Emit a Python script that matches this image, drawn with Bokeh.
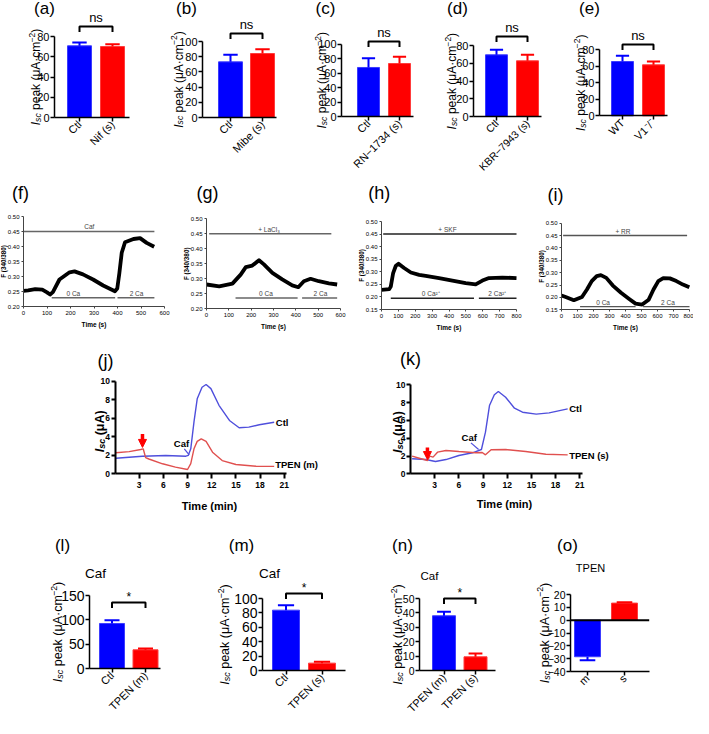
import math
from bokeh.plotting import figure
from bokeh.layouts import row, column
from bokeh.models import Label, FixedTicker, NumeralTickFormatter, Arrow, NormalHead, Range1d
from bokeh.embed import file_html
from bokeh.resources import INLINE

FONT = "Liberation Sans"
BLUE, BLUE_EDGE = "#0000ff", "#3c3cff"
RED, RED_EDGE = "#ff0000", "#ff3c3c"
TRACE_BLUE = "#4f4fdc"
TRACE_RED = "#e0504f"

# ---------------- data: bar panels ----------------
a_cats = ["Ctl", "Nif (s)"]
a_mean = [70.8, 70.1]
a_err = [3.2, 2.3]
b_cats = ["Ctl", "Mibe (s)"]
b_mean = [73.2, 84.2]
b_err = [9.3, 5.7]
c_cats = ["Ctl", "RN\u22121734 (s)"]
c_mean = [67.8, 73.3]
c_err = [12.9, 9.3]
d_cats = ["Ctl", "KBR\u22127943 (s)"]
d_mean = [69.8, 63.0]
d_err = [5.6, 6.8]
e_cats = ["WT", "V1\u207b/\u207b"]
e_mean = [65.8, 61.8]
e_err = [6.9, 4.0]
l_cats = ["Ctl", "TPEN (m)"]
l_mean = [92.5, 38.4]
l_err = [6.5, 2.6]
m_cats = ["Ctl", "TPEN (s)"]
m_mean = [83.8, 10.2]
m_err = [6.9, 1.8]
n_cats = ["TPEN (m)", "TPEN (s)"]
n_mean = [38.0, 9.5]
n_err = [2.8, 2.3]
o_cats = ["m", "s"]
o_mean = [-28.5, 13.3]
o_err = [2.7, 0.6]

ticks_0_80 = [0, 20, 40, 60, 80]
ticks_0_100 = [0, 20, 40, 60, 80, 100]
ticks_0_150 = [0, 50, 100, 150]
ticks_0_50 = [0, 10, 20, 30, 40, 50]
ticks_m40_20 = [-40, -30, -20, -10, 0, 10, 20]

# ---------------- data: Fura-2 traces (f-i) ----------------
f_t = [0, 20, 50, 80, 100, 113, 125, 153, 196, 217, 253, 296, 339, 389, 399, 408, 418, 432, 468, 496, 524, 556]
f_v = [0.252, 0.254, 0.258, 0.256, 0.247, 0.240, 0.248, 0.290, 0.314, 0.317, 0.307, 0.290, 0.270, 0.251,
       0.260, 0.312, 0.379, 0.414, 0.425, 0.428, 0.412, 0.399]
g_t = [0, 57, 116, 153, 176, 205, 235, 257, 295, 339, 384, 411, 436, 466, 503, 548, 585]
g_v = [0.281, 0.275, 0.284, 0.314, 0.339, 0.344, 0.362, 0.348, 0.320, 0.298, 0.278, 0.272, 0.292, 0.300,
       0.292, 0.285, 0.281]
h_t = [0, 46, 55, 69, 85, 101, 134, 174, 223, 262, 341, 420, 499, 558, 598, 637, 716, 800]
h_v = [0.228, 0.231, 0.241, 0.295, 0.324, 0.332, 0.315, 0.297, 0.288, 0.284, 0.275, 0.265, 0.255, 0.250,
       0.265, 0.275, 0.277, 0.275]
i_t = [0, 26, 77, 128, 159, 189, 220, 246, 280, 321, 372, 423, 463, 504, 545, 575, 605, 636, 677, 718, 759, 799]
i_v = [0.208, 0.202, 0.189, 0.202, 0.232, 0.266, 0.286, 0.290, 0.279, 0.248, 0.219, 0.194, 0.175, 0.171,
       0.191, 0.232, 0.266, 0.278, 0.277, 0.266, 0.252, 0.241]
f_xticks = [0, 100, 200, 300, 400, 500, 600]
h_xticks = [0, 100, 200, 300, 400, 500, 600, 700, 800]
f_yticks = [0.20, 0.25, 0.30, 0.35, 0.40, 0.45, 0.50]
h_yticks = [0.15, 0.20, 0.25, 0.30, 0.35, 0.40, 0.45, 0.50]

# treatments: (label, start, end, label position)
f_top = ("Caf", 0, 557, 280)
f_bottom = [("0 Ca", 120, 390, 212), ("2 Ca", 400, 557, 481)]
g_top = ("+ LaCl\u2083", 12, 559, 280)
g_bottom = [("0 Ca", 130, 408, 266), ("2 Ca", 428, 585, 510)]
h_top = ("+ SKF", 10, 800, 391)
h_bottom = [("0 Ca\u00b2\u207a", 55, 548, 292), ("2 Ca\u00b2\u207a", 577, 800, 686)]
i_top = ("+ RR", 10, 785, 384)
i_bottom = [("0 Ca", 116, 463, 260), ("2 Ca", 510, 800, 665)]
top_level = 0.45
f_bot_level, g_bot_level, h_bot_level, i_bot_level = 0.229, 0.236, 0.195, 0.163

# ---------------- data: Isc recordings (j, k) ----------------
j_t_ctl = [0.1, 3.4, 6.3, 8.8, 9.1, 9.4, 9.8, 10.2, 10.8, 11.3, 11.9, 12.9, 14.2, 15.4, 16.6, 17.9, 19.75]
j_ctl = [1.68, 1.90, 1.98, 1.90, 2.0, 2.7, 5.6, 8.1, 9.35, 9.64, 9.2, 7.4, 5.76, 4.97, 5.04, 5.3, 5.57]
j_t_tpen = [0.1, 1.76, 3.2, 3.5, 3.8, 4.2, 5.9, 7.5, 9.0, 9.4, 9.8, 10.2, 10.7, 11.3, 12.1, 13.3, 15.0, 17.5, 19.75]
j_tpen = [2.27, 2.4, 2.62, 2.7, 1.75, 1.6, 1.08, 0.72, 0.46, 1.1, 2.7, 3.5, 3.78, 3.5, 2.33, 1.43, 1.0, 0.82, 0.8]
k_t_ctl = [0.2, 1.9, 3.1, 4.4, 6.0, 7.7, 8.8, 9.3, 9.8, 10.4, 10.9, 11.8, 12.9, 13.9, 15.6, 17.2, 19.5]
k_ctl = [1.69, 1.6, 1.38, 1.6, 2.06, 2.36, 2.73, 4.68, 7.67, 8.88, 9.25, 8.6, 7.37, 6.92, 6.7, 6.85, 7.3]
k_t_tpen = [0.2, 1.1, 2.1, 2.4, 2.8, 3.35, 4.4, 6.0, 8.1, 8.9, 9.3, 10.0, 11.8, 14.3, 16.8, 19.5]
k_tpen = [1.98, 1.75, 1.49, 1.98, 1.87, 2.43, 2.62, 2.5, 2.36, 2.4, 2.13, 2.7, 2.73, 2.5, 2.2, 2.13]
isc_yticks = [0, 2, 4, 6, 8, 10]
isc_xticks = [3, 6, 9, 12, 15, 18, 21]
j_arrow = (3.41, 4.3, 2.85)
k_arrow = (2.1, 2.95, 1.6)
j_caf_t, j_caf_v = [8.6, 9.2], [2.7, 2.05]
k_caf_t, k_caf_v = [7.5, 8.45], [3.48, 2.73]

# ---------------- layout helpers ----------------
# rows: page top, page bottom, vertical offset applied to reference coordinates
ROWS = [(8, 186, 0), (186, 340, -3), (340, 524, -7), (524, 726, -10)]

AW = {' ': 278, '(': 333, ')': 333, 'a': 556, 'c': 500, 'e': 556, 'k': 500, 'm': 833, 'p': 556,
      's': 500, 'A': 667, 'I': 278, '\u00b7': 278, '\u03bc': 576, '\u2212': 584, '2': 556}
AWB = {'s': 556, 'c': 556, 'A': 722, '\u03bc': 611, 'm': 889}


def tw(s, fs, bold=False):
    tot = 0
    for ch in s:
        tot += AWB[ch] if (bold and ch in AWB) else AW.get(ch, 556)
    return tot / 1000.0 * fs


def lin(v1, p1, v2, p2, p):
    return v1 + (p - p1) * (v2 - v1) / (p2 - p1)


class Panel:
    """A figure whose frame fills its whole cell; axes are drawn at fixed data locations."""

    def __init__(self, x0, x1, rowi):
        top, bot, off = ROWS[rowi]
        self.x0, self.x1 = x0, x1
        self.top_ref = top - off
        self.bot_ref = bot - off
        self.w = x1 - x0
        self.h = bot - top

    def make(self, xr, yr):
        p = figure(width=self.w, height=self.h, x_range=Range1d(*xr), y_range=Range1d(*yr),
                   min_border=0, output_backend="svg", toolbar_location=None)
        p.outline_line_color = None
        p.xgrid.visible = False
        p.ygrid.visible = False
        p.background_fill_color = "white"
        p.border_fill_color = "white"
        self.p = p
        return p

    def text(self, X, Y, s, fs, style="normal", align="center", baseline="middle", angle=0.0, color="black"):
        self.p.add_layout(Label(x=X - self.x0, y=self.bot_ref - Y, x_units="screen", y_units="screen", text=s,
                                text_font=FONT, text_font_size="%.1fpx" % fs, text_font_style=style,
                                text_align=align, text_baseline=baseline, angle=angle, text_color=color))

    def rot_label(self, xc, yc, pieces, fs):
        ws = [tw(t, fs * s, "bold" in st) for t, s, st, sh in pieces]
        total = sum(ws)
        xb = xc + 0.36 * fs
        y = yc + total / 2
        for (t, s, st, sh), w in zip(pieces, ws):
            lead = tw(" ", fs * s) * (len(t) - len(t.lstrip(" ")))
            self.text(xb + sh * fs, y - lead, t.lstrip(" "), fs * s, style=st, align="left",
                      baseline="alphabetic", angle=math.pi / 2)
            y -= w


def ax_style(p, fs, lw=1.5, tick_out=5, bold=False, color="black", standoff=2):
    for ax in (p.xaxis[0], p.yaxis[0]):
        ax.axis_line_width = lw
        ax.axis_line_color = color
        ax.major_tick_line_width = lw
        ax.major_tick_line_color = color
        ax.major_tick_out = tick_out
        ax.major_tick_in = 0
        ax.minor_tick_line_color = None
        ax.major_label_text_font = FONT
        ax.major_label_text_font_size = "%.1fpx" % fs
        ax.major_label_text_font_style = "bold" if bold else "normal"
        ax.major_label_text_color = "black"
        ax.major_label_standoff = standoff


BAR_YLABEL = [("I", 1, "italic", 0), ("sc", 0.72, "italic", 0.16), (" peak (\u03bcA\u00b7cm", 1, "normal", 0),
              ("\u22122", 0.7, "normal", -0.36), (")", 1, "normal", 0)]


def bar_panel(x0, x1, rowi, fl, fr, tick_lo, tick_hi, yticks, c1, c2, bw, cats, mean, err, sig, br_y,
              tag, tag_xy, ylab_x, fs_tick, fs_cat, fs_ylab, head=None, fs_head=13):
    P = Panel(x0, x1, rowi)

    def X(px):
        return lin(1, c1, 2, c2, px)

    def Yv(py):
        return lin(tick_lo[0], tick_lo[1], tick_hi[0], tick_hi[1], py)

    p = P.make((X(x0), X(x1)), (Yv(P.bot_ref), Yv(P.top_ref)))
    unit = c2 - c1
    scale = (tick_lo[1] - tick_hi[1]) / (tick_hi[0] - tick_lo[0])
    xs = [1, 2]
    p.vbar(x=xs, top=mean, bottom=0, width=bw / unit, fill_color=[BLUE, RED],
           line_color=[BLUE_EDGE, RED_EDGE], line_width=1)
    if yticks[0] < 0:
        p.line([X(fl), X(fr)], [0, 0], line_color="black", line_width=2)
    tips = [mv + (ev if mv >= 0 else -ev) for mv, ev in zip(mean, err)]
    p.segment(x0=xs, y0=mean, x1=xs, y1=tips, line_color=[BLUE, RED], line_width=2)
    cap = 0.3 * bw / unit
    p.segment(x0=[x - cap for x in xs], y0=tips, x1=[x + cap for x in xs], y1=tips,
              line_color=[BLUE, RED], line_width=2)
    if sig:
        yb = Yv(br_y)
        d = 5.5 / scale
        p.line([1, 1, 2, 2], [yb - d, yb, yb, yb - d], line_color="black", line_width=2)
        P.text((c1 + c2) / 2, br_y - (9 if sig == "ns" else 6), sig, 13 if sig == "ns" else 12)
    ax_style(p, fs_tick, tick_out=4, standoff=1)
    p.yaxis.ticker = FixedTicker(ticks=yticks)
    p.yaxis.bounds = (yticks[0], yticks[-1])
    p.yaxis.fixed_location = X(fl)
    p.xaxis.ticker = FixedTicker(ticks=xs)
    p.xaxis.bounds = (X(fl), X(fr))
    p.xaxis.fixed_location = yticks[0]
    p.xaxis.major_label_overrides = {1: cats[0], 2: cats[1]}
    p.xaxis.major_label_orientation = math.pi / 4
    p.xaxis.major_label_text_font_size = "%.1fpx" % fs_cat
    P.text(tag_xy[0], tag_xy[1], tag, 17)
    if head:
        P.text(head[1], head[2], head[0], fs_head)
    P.rot_label(ylab_x, (tick_lo[1] + tick_hi[1]) / 2, BAR_YLABEL, fs_ylab)
    return p


def trace_panel(x0, x1, fl, fr, ft, fb, xmax, yticks, xticks, t, v, top, bottoms, bot_level, tag, tag_xy, lc):
    P = Panel(x0, x1, 1)
    ylo, yhi = yticks[0], yticks[-1]

    def X(px):
        return lin(0, fl, xmax, fr, px)

    def Yv(py):
        return lin(ylo, fb, yhi, ft, py)

    p = P.make((X(x0), X(x1)), (Yv(P.bot_ref), Yv(P.top_ref)))
    p.line(t, v, line_color="black", line_width=3.8, line_join="round")
    p.line([top[1], top[2]], [top_level, top_level], line_color=lc, line_width=1.4)
    p.add_layout(Label(x=top[3], y=top_level + 0.004, text=top[0], text_font=FONT, text_font_size="6.5px",
                       text_align="center", text_baseline="bottom"))
    for lab, s0, s1, lx in bottoms:
        p.line([s0, s1], [bot_level, bot_level], line_color=lc, line_width=1.4)
        p.add_layout(Label(x=lx, y=bot_level + 0.004, text=lab, text_font=FONT, text_font_size="6.5px",
                           text_align="center", text_baseline="bottom"))
    ax_style(p, 6, lw=1, tick_out=2, color="#444444", standoff=2)
    p.xaxis.ticker = FixedTicker(ticks=xticks)
    p.yaxis.ticker = FixedTicker(ticks=yticks)
    p.yaxis.formatter = NumeralTickFormatter(format="0.00")
    p.xaxis.bounds = (0, xmax)
    p.yaxis.bounds = (ylo, yhi)
    p.xaxis.fixed_location = ylo
    p.yaxis.fixed_location = 0
    P.text((fl + fr) / 2, fb + 18, "Time (s)", 6.5, style="bold")
    P.text(fl - 20, (ft + fb) / 2, "F (340/380)", 6.3, style="bold", angle=math.pi / 2)
    P.text(tag_xy[0], tag_xy[1], tag, 18)
    return p


ISC_YLABEL = [("I", 1, "bold italic", 0), ("sc", 0.72, "bold italic", 0.16), (" (\u03bcA)", 1, "bold", 0)]


def isc_panel(x0, x1, fl, fr, ft, fb, px_per_min, t1, v1, t2, v2, lab1, lab2, caf_xy, caf_t, caf_v, arrow,
              tag, tag_xy, ylab_xy, xlab_xy):
    P = Panel(x0, x1, 2)

    def X(px):
        return (px - fl) / px_per_min

    def Yv(py):
        return lin(0, fb, 10, ft, py)

    p = P.make((X(x0), X(x1)), (Yv(P.bot_ref), Yv(P.top_ref)))
    p.line(t1, v1, line_color=TRACE_BLUE, line_width=1.4)
    p.line(t2, v2, line_color=TRACE_RED, line_width=1.4)
    p.line(caf_t, caf_v, line_color=TRACE_BLUE, line_width=1.2)
    p.add_layout(Arrow(end=NormalHead(size=8, fill_color=RED, line_color=RED), x_start=arrow[0],
                       y_start=arrow[1], x_end=arrow[0], y_end=arrow[2], line_color=RED, line_width=3.5))
    ax_style(p, 8.5, lw=2, tick_out=4, bold=True, standoff=1)
    p.xaxis.major_label_standoff = 3
    p.xaxis.major_tick_out = 5
    p.xaxis.ticker = FixedTicker(ticks=isc_xticks)
    p.yaxis.ticker = FixedTicker(ticks=isc_yticks)
    p.xaxis.bounds = (0, X(fr))
    p.yaxis.bounds = (0, 10)
    p.xaxis.fixed_location = 0
    p.yaxis.fixed_location = 0
    P.text(lab1[1], lab1[2], lab1[0], 9.5, style="bold", align="left")
    P.text(lab2[1], lab2[2], lab2[0], 9.5, style="bold", align="left")
    P.text(caf_xy[0], caf_xy[1], "Caf", 9.5, style="bold")
    P.text(xlab_xy[0], xlab_xy[1], "Time (min)", 11, style="bold")
    P.text(tag_xy[0], tag_xy[1], tag, 18)
    P.rot_label(ylab_xy[0], ylab_xy[1], ISC_YLABEL, 12.5)
    return p


# ---------------- row 1 ----------------
pa = bar_panel(8, 148, 0, 62, 137, (0, 125), (80, 44), ticks_0_80, 87, 120, 24, a_cats, a_mean, a_err,
               "ns", 34, "(a)", (52, 16), 39, 11, 11, 12)
pb = bar_panel(148, 285, 0, 210, 284, (0, 125), (100, 49), ticks_0_100, 238, 270, 24, b_cats, b_mean,
               b_err, "ns", 41, "(b)", (194, 16), 181.7, 11, 11, 12)
pc = bar_panel(285, 425, 0, 349, 421, (0, 124), (100, 51.7), ticks_0_100, 376, 407, 22, c_cats, c_mean,
               c_err, "ns", 49, "(c)", (333, 16), 325, 11, 11, 12)
pd = bar_panel(425, 560, 0, 481, 549, (0, 124), (80, 53.3), ticks_0_80, 504, 535, 22, d_cats, d_mean,
               d_err, "ns", 44, "(d)", (465, 16), 455.5, 11, 10.5, 12)
pe = bar_panel(560, 701, 0, 607, 675, (0, 123.3), (80, 57.3), ticks_0_80, 630, 661, 22, e_cats, e_mean,
               e_err, "ns", 52, "(e)", (597, 16), 584, 11, 11, 12)

# ---------------- row 2 ----------------
pf = trace_panel(8, 185, 31, 172, 227, 317, 600, f_yticks, f_xticks, f_t, f_v, f_top, f_bottom, f_bot_level,
                 "(f)", (28, 203), "#666666")
pg = trace_panel(185, 365, 214, 348, 229.3, 319.3, 600, f_yticks, f_xticks, g_t, g_v, g_top, g_bottom,
                 g_bot_level, "(g)", (215, 203), "#666666")
ph = trace_panel(365, 545, 389, 524, 232, 320, 800, h_yticks, h_xticks, h_t, h_v, h_top, h_bottom,
                 h_bot_level, "(h)", (386.7, 203.3), "#222222")
pi_ = trace_panel(545, 701, 569, 697, 233.7, 320.3, 800, h_yticks, h_xticks, i_t, i_v, i_top, i_bottom,
                  i_bot_level, "(i)", (563, 205), "#555555")

# ---------------- row 3 ----------------
pj = isc_panel(8, 360, 122.5, 294, 395.7, 488.3, 8.06, j_t_ctl, j_ctl, j_t_tpen, j_tpen,
               ("Ctl", 283.3, 436.7), ("TPEN (m)", 282.7, 479.3), (189, 457.7), j_caf_t, j_caf_v, j_arrow,
               "(j)", (113, 375), (102.5, 445.8), (217, 520))
pk = isc_panel(360, 701, 418, 590, 399.3, 488.3, 8.06, k_t_ctl, k_ctl, k_t_tpen, k_tpen,
               ("Ctl", 576.7, 422.7), ("TPEN (s)", 576.7, 470), (476.7, 451.7), k_caf_t, k_caf_v, k_arrow,
               "(k)", (418, 373), (400.5, 446.5), (512, 518))

# ---------------- row 4 ----------------
pl = bar_panel(8, 185, 3, 97, 168, (0, 686), (150, 613), ticks_0_150, 119.5, 153, 25, l_cats, l_mean,
               l_err, "*", 620, "(l)", (70, 563), 61, 14, 11, 12.5, head=("Caf", 103, 591), fs_head=13.5)
pm = bar_panel(185, 365, 3, 270, 352.7, (0, 688), (100, 616), ticks_0_100, 293.5, 329.5, 27, m_cats,
               m_mean, m_err, "*", 611, "(m)", (249, 563), 228, 14, 11, 12.5, head=("Caf", 277, 591),
               fs_head=13.5)
pn = bar_panel(365, 525, 3, 427, 503, (0, 688), (50, 616), ticks_0_50, 451.5, 483, 23, n_cats, n_mean,
               n_err, "*", 616, "(n)", (410, 563), 401, 10.5, 11, 12.5, head=("Caf", 437, 593), fs_head=11.5)
po = bar_panel(525, 701, 3, 578, 656.7, (-40, 689), (20, 612), ticks_m40_20, 595, 632, 26, o_cats, o_mean,
               o_err, None, 0, "(o)", (575, 563), 547.5, 10.5, 11, 12.5, head=("TPEN", 598, 585), fs_head=11)

layout = column(row(pa, pb, pc, pd, pe), row(pf, pg, ph, pi_), row(pj, pk), row(pl, pm, pn, po))
open("out.html", "w").write(file_html(layout, INLINE, title="Isc figure"))
